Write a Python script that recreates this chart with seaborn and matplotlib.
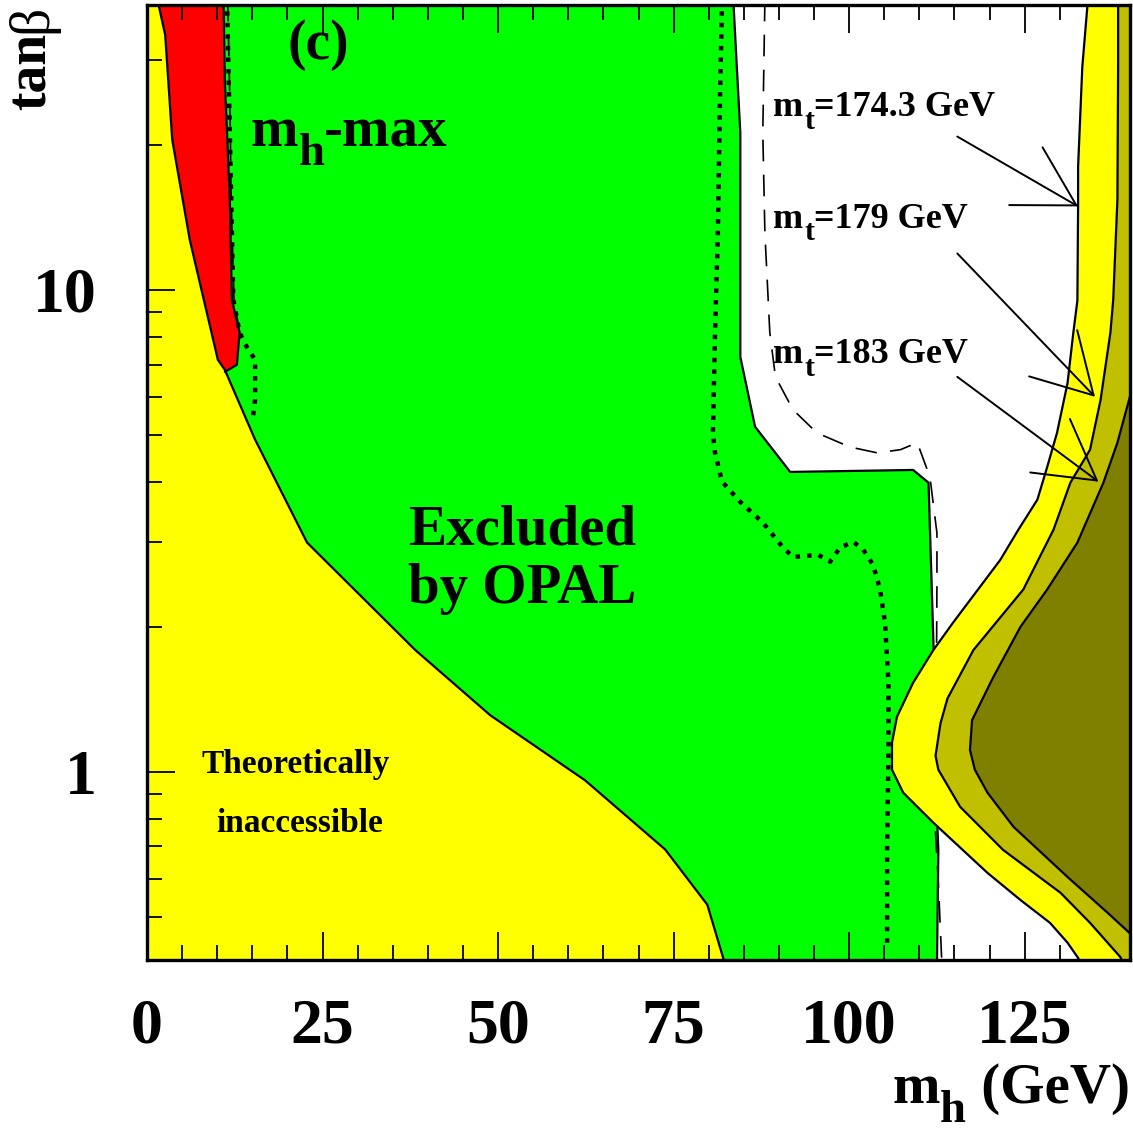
import numpy as np
import seaborn as sns
import matplotlib.pyplot as plt
from matplotlib.ticker import FixedLocator, MultipleLocator, NullFormatter

# tanb vs m_h, m_h-max scenario

# theoretically inaccessible region, low-m_h side (boundary, top -> bottom)
theo_mh = [1.5, 2.6, 3.6, 6.1, 10.1, 11.1, 15.4, 22.8, 38.2, 48.9, 62.4, 73.8, 79.8, 82.3]
theo_tb = [40.0, 33.8, 20.5, 12.7, 7.16, 6.82, 4.89, 2.99, 1.79, 1.31, 0.96, 0.69, 0.53, 0.40]

# red strip, right edge
red_mh = [10.9, 11.1, 11.8, 12.1, 13.2, 12.8, 11.1]
red_tb = [40.0, 26.9, 15.4, 9.53, 8.15, 6.99, 6.76]

# observed exclusion (green), right edge
obs_mh = [83.5, 84.0, 84.5, 84.5, 86.6, 91.6, 109.1, 111.3, 112.0, 112.5, 112.7, 112.5]
obs_tb = [40.0, 29.0, 21.2, 7.26, 5.20, 4.19, 4.23, 3.98, 1.85, 0.807, 0.689, 0.40]

# expected limit (dashed)
exp_mh = [88.0, 87.7, 88.0, 88.7, 89.5, 92.0, 95.4, 100.1, 104.0, 107.3, 109.7,
          111.5, 112.5, 112.5, 112.3, 112.7, 113.2]
exp_tb = [40.0, 21.2, 13.1, 8.15, 6.60, 5.64, 5.05, 4.72, 4.59, 4.66, 4.82,
          4.09, 3.13, 2.47, 0.747, 0.589, 0.40]
exp_lo_mh = [11.5, 11.8, 12.0, 12.4, 13.2]
exp_lo_tb = [40.0, 24.8, 15.4, 9.53, 8.15]

# dotted limit
dot_mh = [81.9, 81.6, 81.3, 80.9, 80.6, 80.9, 81.9, 84.5, 87.7, 90.5, 92.0, 95.6,
          97.3, 98.7, 100.6, 102.0, 103.4, 104.4, 105.1, 105.6, 105.6, 105.4, 105.4]
dot_tb = [40.0, 24.8, 13.1, 8.15, 5.05, 4.59, 4.00, 3.63, 3.29, 2.93, 2.79, 2.82,
          2.73, 2.92, 3.00, 2.89, 2.69, 2.39, 2.04, 1.53, 1.11, 0.689, 0.427]
dot_lo_mh = [11.4, 12.3, 13.2, 14.2, 15.4, 15.4, 15.0]
dot_lo_tb = [40.0, 9.53, 8.15, 7.62, 7.16, 5.91, 5.32]

# theoretical upper bound on m_h for three top masses
mt1743_mh = [134.0, 133.2, 132.6, 132.6, 132.5, 131.9, 131.1, 129.6, 128.2, 126.8, 124.1,
             121.5, 114.8, 112.0, 109.1, 106.8, 106.1, 106.1, 107.7, 112.0, 119.7, 124.4,
             128.6, 131.1, 132.6, 133.5]
mt1743_tb = [40.0, 29.0, 18.0, 14.9, 9.5, 8.1, 6.41, 5.05, 4.29, 3.67, 3.18,
             2.75, 2.04, 1.79, 1.53, 1.30, 1.15, 1.01, 0.905, 0.784, 0.617, 0.542,
             0.486, 0.442, 0.411, 0.39]
mt179_mh = [138.3, 138.3, 138.2, 137.6, 137.2, 135.8, 134.3, 131.5, 129.1, 124.8, 117.7,
            114.0, 113.0, 112.3, 112.7, 115.8, 121.9, 130.1, 134.3, 138.6, 139.5]
mt179_tb = [40.0, 29.0, 15.4, 9.53, 8.15, 5.91, 4.66, 3.98, 3.18, 2.39, 1.79,
            1.42, 1.26, 1.08, 1.01, 0.846, 0.689, 0.561, 0.486, 0.413, 0.39]
mt183_mh = [140.5, 138.2, 136.2, 132.5, 128.2, 124.4, 120.5, 117.5, 117.2, 117.9, 119.7,
            123.4, 131.1, 136.8, 140.5]
mt183_tb = [6.4, 4.82, 3.98, 2.99, 2.39, 2.00, 1.57, 1.28, 1.11, 1.01, 0.905,
            0.769, 0.605, 0.510, 0.455]

mt_labels = ['174.3', '179', '183']
x_ticks = [0, 25, 50, 75, 100, 125]
y_ticks = [1, 10]
y_minor = [0.5, 0.6, 0.7, 0.8, 0.9, 2, 3, 4, 5, 6, 7, 8, 9, 20, 30]

sns.set_theme(style="ticks")
plt.rcParams['font.family'] = ['Liberation Serif', 'DejaVu Serif']
plt.rcParams['axes.axisbelow'] = False
for key in ['text.color', 'axes.labelcolor', 'xtick.color', 'ytick.color',
            'xtick.labelcolor', 'ytick.labelcolor']:
    plt.rcParams[key] = 'black'

fig = plt.figure(figsize=(11.33, 11.33), dpi=100)
ax = fig.add_axes([0.1297, 0.1527, 0.8677, 0.8429])
ax.set_yscale('log')

GREEN, YELLOW, RED = '#00ff00', '#ffff00', '#ff0000'
OLIVE1, OLIVE2 = '#c0c000', '#808000'
XR = 150

# filled regions (left part)
ax.fill([0] + obs_mh + [0], [obs_tb[0]] + obs_tb + [obs_tb[-1]], color=GREEN, lw=0, zorder=1)
ax.fill([0] + theo_mh + [0], [theo_tb[0]] + theo_tb + [theo_tb[-1]], color=YELLOW, lw=0, zorder=1)
red_left = [(m, t) for m, t in zip(theo_mh, theo_tb) if t >= 6.8]
ax.fill([p[0] for p in red_left] + red_mh[::-1], [p[1] for p in red_left] + red_tb[::-1],
        color=RED, lw=0, zorder=1)

# boundary lines of the left part
for xs, ys in [(theo_mh, theo_tb), (red_mh, red_tb), (obs_mh, obs_tb)]:
    sns.lineplot(x=xs, y=ys, sort=False, estimator=None, color='black', lw=1.6, ax=ax, zorder=2)
for xs, ys in [(exp_mh, exp_tb), (exp_lo_mh, exp_lo_tb)]:
    sns.lineplot(x=xs, y=ys, sort=False, estimator=None, color='black', lw=1.2,
                 linestyle=(0, (13, 8)), ax=ax, zorder=2)
for xs, ys in [(dot_mh, dot_tb), (dot_lo_mh, dot_lo_tb)]:
    sns.lineplot(x=xs, y=ys, sort=False, estimator=None, color='black', lw=3.2,
                 linestyle=(0, (1, 1.6)), ax=ax, zorder=2)

# top-mass bands drawn on top
ax.fill(mt1743_mh + [XR, XR], mt1743_tb + [mt1743_tb[-1], mt1743_tb[0]], color=YELLOW, lw=0, zorder=2.6)
ax.fill(mt179_mh + [XR, XR], mt179_tb + [mt179_tb[-1], mt179_tb[0]], color=OLIVE1, lw=0, zorder=2.6)
ax.fill(mt183_mh + [XR, XR], mt183_tb + [mt183_tb[-1], mt183_tb[0]], color=OLIVE2, lw=0, zorder=2.6)
for xs, ys in [(mt1743_mh, mt1743_tb), (mt179_mh, mt179_tb), (mt183_mh, mt183_tb)]:
    sns.lineplot(x=xs, y=ys, sort=False, estimator=None, color='black', lw=1.6, ax=ax, zorder=3)

ax.set_xlim(0, 140)
ax.set_ylim(0.407, 39)

# axes / ticks
ax.xaxis.set_major_locator(FixedLocator(x_ticks))
ax.xaxis.set_minor_locator(MultipleLocator(5))
ax.yaxis.set_major_locator(FixedLocator(y_ticks))
ax.yaxis.set_minor_locator(FixedLocator(y_minor))
ax.yaxis.set_minor_formatter(NullFormatter())
ax.set_xticklabels([str(v) for v in x_ticks])
ax.set_yticklabels([str(v) for v in y_ticks])
ax.tick_params(which='both', direction='in', top=True, right=True, color='black', width=1.3)
ax.tick_params(which='major', length=20)
ax.tick_params(which='minor', length=11)
ax.tick_params(axis='x', which='major', pad=28, labelsize=46)
ax.tick_params(axis='y', which='major', pad=36, labelsize=46)
for lab in ax.get_xticklabels() + ax.get_yticklabels():
    lab.set_fontweight('bold')
for sp in ax.spines.values():
    sp.set_visible(True)
    sp.set_color('black')
    sp.set_linewidth(2.4)
    sp.set_zorder(5)
ax.set_xlabel('')
ax.set_ylabel('')


def sub_left(x, y, main, sub, rest, size, coords):
    """main + lowered subscript + rest, left anchored at baseline (x, y)."""
    kw = dict(fontweight='bold', annotation_clip=False)
    t1 = ax.annotate(main, xy=(x, y), xycoords=coords, ha='left', va='baseline', fontsize=size, **kw)
    t2 = ax.annotate(sub, xy=(1, 0), xycoords=t1, xytext=(0.5, -0.3 * size),
                     textcoords='offset points', ha='left', va='bottom', fontsize=0.82 * size, **kw)
    ax.annotate(rest, xy=(1, 0), xycoords=(t2, t1), ha='left', va='bottom', fontsize=size, **kw)


def sub_right(x, y, main, sub, rest, size, coords):
    """same, but right anchored."""
    kw = dict(fontweight='bold', annotation_clip=False)
    t3 = ax.annotate(rest, xy=(x, y), xycoords=coords, ha='right', va='baseline', fontsize=size, **kw)
    t2 = ax.annotate(sub, xy=(0, 0), xycoords=t3, xytext=(-0.5, -0.3 * size),
                     textcoords='offset points', ha='right', va='bottom', fontsize=0.82 * size, **kw)
    ax.annotate(main, xy=(0, 0), xycoords=(t2, t3), ha='right', va='bottom', fontsize=size, **kw)


# axis titles
tb_b = fig.text(32 / 1133, 1 - 5 / 1133, 'β', rotation=90, ha='center', va='top', fontsize=40)
ax.annotate('tan', xy=(0.5, 0), xycoords=tb_b, ha='center', va='top', rotation=90,
            fontsize=40, fontweight='bold', annotation_clip=False)
sub_right(1130 / 1133, 1 - 1103 / 1133, 'm', 'h', ' (GeV)', 41, 'figure fraction')

# annotations
tr = ax.transAxes
ax.text(0.174, 0.958, '(c)', transform=tr, ha='center', va='center', fontsize=40, fontweight='bold')
sub_left(0.105, 0.852, 'm', 'h', '-max', 41, 'axes fraction')
ax.text(0.2655, 0.4346, 'Excluded', transform=tr, ha='left', va='baseline', fontsize=41,
        fontweight='bold')
ax.text(0.2655, 0.374, 'by OPAL', transform=tr, ha='left', va='baseline', fontsize=41,
        fontweight='bold')
ax.text(0.1516, 0.1958, 'Theoretically', transform=tr, ha='center', va='baseline', fontsize=24,
        fontweight='bold')
ax.text(0.1556, 0.134, 'inaccessible', transform=tr, ha='center', va='baseline', fontsize=24,
        fontweight='bold')
for label, yb in zip(mt_labels, [0.884, 0.767, 0.625]):
    sub_left(0.637, yb, 'm', 't', '=' + label + ' GeV', 26, 'axes fraction')

arrow_kw = dict(arrowstyle='->, head_length=4.2, head_width=2.4', color='black', lw=1.4,
                shrinkA=0, shrinkB=0, mutation_scale=10)
for (x0, y0), (x1, y1) in [((115.4, 20.8), (132.6, 14.9)),
                           ((115.4, 11.9), (135.0, 6.0)),
                           ((115.4, 6.6), (135.5, 4.0))]:
    ax.annotate('', xy=(x1, y1), xytext=(x0, y0), arrowprops=arrow_kw, zorder=4)

fig.savefig('out.png', dpi=100)
